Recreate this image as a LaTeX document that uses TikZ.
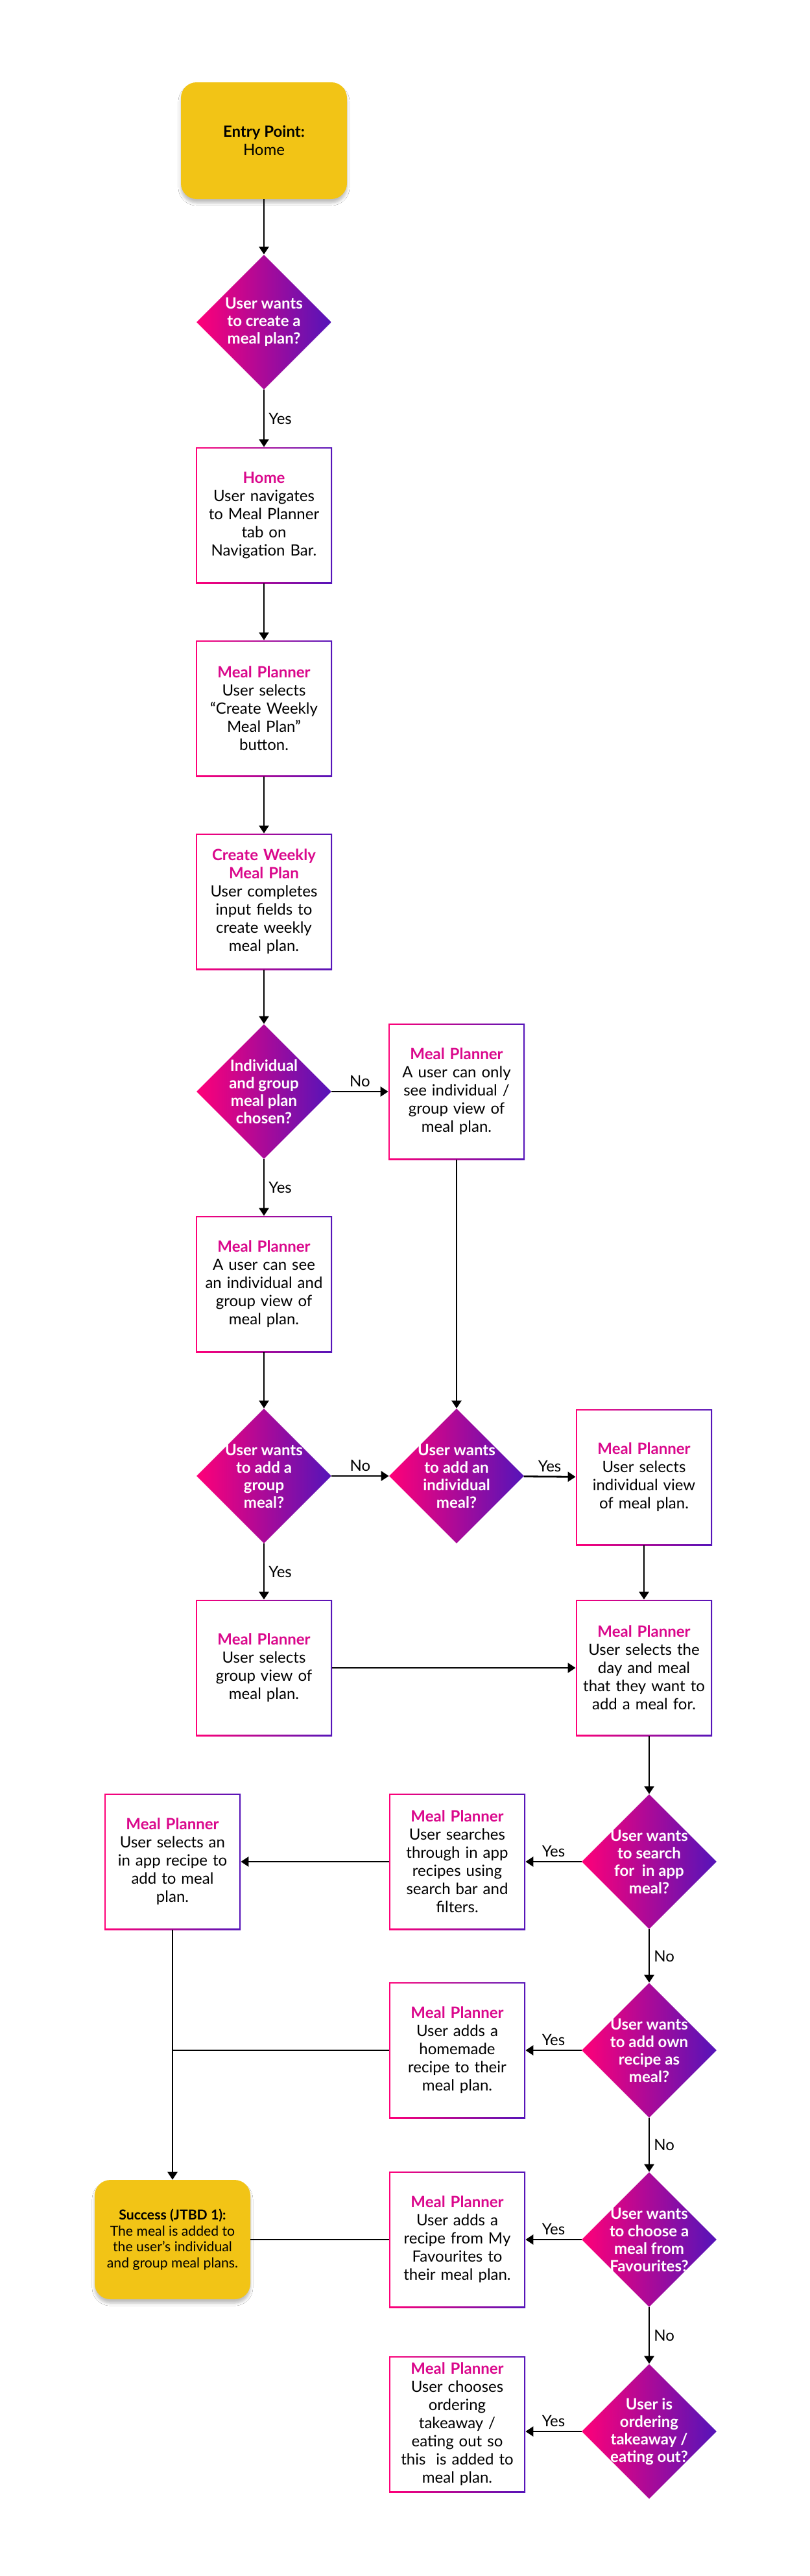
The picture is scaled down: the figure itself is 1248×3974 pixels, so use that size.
\documentclass[tikz,border=0pt]{standalone}
\usepackage{fontspec}
\setmainfont{Lato}
\usepackage{tikz}
\usetikzlibrary{shapes.geometric, arrows.meta, shadows.blur}

\definecolor{mpink}{RGB}{255,0,120}
\definecolor{mpurple}{RGB}{85,20,185}
\definecolor{mtitle}{RGB}{218,8,140}
\definecolor{myellow}{RGB}{242,196,22}

\newcommand{\mptitle}[1]{{\bfseries\color{mtitle}#1}\\}

\tikzset{
  mpbox/.style={rectangle, minimum width=105pt, minimum height=105pt, text width=100pt,
    align=center, inner sep=0pt, font=\fontsize{12}{14}\selectfont,
    left color=mpink, right color=mpurple,
    path picture={\fill[white] ([shift={(1.1pt,-1.1pt)}]path picture bounding box.north west)
      rectangle ([shift={(-1.1pt,1.1pt)}]path picture bounding box.south east);}},
  dmd/.style={diamond, aspect=1, minimum width=104pt, minimum height=104pt, inner sep=0pt,
    left color=mpink, right color=mpurple},
  dtxt/.style={text=white, align=center, font=\bfseries\fontsize{12}{13.5}\selectfont, inner sep=0pt},
  ybox/.style={rectangle, rounded corners=12pt, fill=myellow, align=center,
    blur shadow={shadow xshift=0pt, shadow yshift=-3pt, shadow blur steps=6, shadow opacity=25}},
  arr/.style={line width=1.4pt, -{Triangle[length=6pt, width=7.5pt]}},
  ln/.style={line width=1.4pt},
  lbl/.style={font=\fontsize{12}{14}\selectfont, inner sep=3pt},
}

\begin{document}
\begin{tikzpicture}[x=0.5pt, y=-0.5pt]
\fill[white] (0,0) rectangle (1248,3974);

% main column
\node[ybox, minimum width=128pt, minimum height=90pt, font=\fontsize{12}{14}\selectfont] (entry) at (407,217) {\textbf{Entry Point:}\\Home};
\node[dmd] (d1) at (407,497) {};
\node[dtxt] (d1t) at (d1) {User wants\\to create a\\meal plan?};
\node[mpbox] (home) at (407,795) {\mptitle{Home}User navigates\\to Meal Planner\\tab on\\Navigation Bar.};
\node[mpbox] (mp1) at (407,1093) {\mptitle{Meal Planner}User selects\\“Create Weekly\\Meal Plan”\\button.};
\node[mpbox] (cwmp) at (407,1391) {\mptitle{Create Weekly}\mptitle{Meal Plan}User completes\\input fields to\\create weekly\\meal plan.};
\node[dmd] (d2) at (407,1684) {};
\node[dtxt] (d2t) at (d2) {Individual\\and group\\meal plan\\chosen?};
\node[mpbox] (only) at (704,1684) {\mptitle{Meal Planner}A user can only\\see individual /\\group view of\\meal plan.};
\node[mpbox] (see) at (407,1981) {\mptitle{Meal Planner}A user can see\\an individual and\\group view of\\meal plan.};

% group / individual
\node[dmd] (d3) at (407,2277) {};
\node[dtxt] (d3t) at (d3) {User wants\\to add a\\group\\meal?};
\node[dmd] (d4) at (704,2277) {};
\node[dtxt] (d4t) at (d4) {User wants\\to add an\\individual\\meal?};
\node[mpbox] (indiv) at (993,2279) {\mptitle{Meal Planner}User selects\\individual view\\of meal plan.};
\node[mpbox] (group) at (407,2573) {\mptitle{Meal Planner}User selects\\group view of\\meal plan.};
\node[mpbox] (day) at (993,2573) {\mptitle{Meal Planner}User selects the\\day and meal\\that they want to\\add a meal for.};

% adding the meal
\node[dmd] (d5) at (1001,2872) {};
\node[dtxt] (d5t) at (d5) {User wants\\to search\\for\ \ in app\\meal?};
\node[mpbox] (search) at (705,2872) {\mptitle{Meal Planner}User searches\\through in app\\recipes using\\search bar and\\filters.};
\node[mpbox] (inapp) at (266,2872) {\mptitle{Meal Planner}User selects an\\in app recipe to\\add to meal\\plan.};
\node[dmd] (d6) at (1001,3163) {};
\node[dtxt] (d6t) at (d6) {User wants\\to add own\\recipe as\\meal?};
\node[mpbox] (homemade) at (705,3163) {\mptitle{Meal Planner}User adds a\\homemade\\recipe to their\\meal plan.};
\node[dmd] (d7) at (1001,3455) {};
\node[dtxt] (d7t) at (d7) {User wants\\to choose a\\meal from\\Favourites?};
\node[mpbox] (fav) at (705,3455) {\mptitle{Meal Planner}User adds a\\recipe from My\\Favourites to\\their meal plan.};
\node[ybox, minimum width=120pt, minimum height=92pt, font=\fontsize{10.6}{12.4}\selectfont] (success) at (266,3455) {\textbf{Success (JTBD 1):}\\The meal is added to\\the user’s individual\\and group meal plans.};
\node[dmd] (d8) at (1001,3751) {};
\node[dtxt] (d8t) at (d8) {User is\\ordering\\takeaway /\\eating out?};
\node[mpbox] (takeaway) at (705,3740) {\mptitle{Meal Planner}User chooses\\ordering\\takeaway /\\eating out so\\this\ \ is added to\\meal plan.};

% connectors
\draw[arr] (entry) -- (d1);
\draw[arr] (d1) -- node[lbl, right] {Yes} (home);
\draw[arr] (home) -- (mp1);
\draw[arr] (mp1) -- (cwmp);
\draw[arr] (cwmp) -- (d2);
\draw[arr] (d2) -- node[lbl, above] {No} (only);
\draw[arr] (d2) -- node[lbl, right] {Yes} (see);
\draw[arr] (see) -- (d3);
\draw[arr] (only) -- (d4);
\draw[arr] (d3) -- node[lbl, above] {No} (d4);
\draw[arr] (d4) -- node[lbl, above] {Yes} (indiv);
\draw[arr] (d3) -- node[lbl, right] {Yes} (group);
\draw[arr] (indiv) -- (day);
\draw[arr] (group) -- (day);
\draw[arr] (day.south -| d5.north) -- (d5.north);
\draw[arr] (d5) -- node[lbl, above] {Yes} (search);
\draw[arr] (search) -- (inapp);
\draw[arr] (d5) -- node[lbl, right] {No} (d6);
\draw[arr] (d6) -- node[lbl, above] {Yes} (homemade);
\draw[arr] (d6) -- node[lbl, right] {No} (d7);
\draw[arr] (d7) -- node[lbl, above] {Yes} (fav);
\draw[arr] (d7) -- node[lbl, right] {No} (d8);
\draw[arr] (d8.west) -- node[lbl, above] {Yes} (d8.west -| takeaway.east);
\draw[arr] (inapp) -- (success);
\draw[ln] (homemade.west) -- (homemade.west -| inapp.south);
\draw[ln] (fav) -- (success);
\end{tikzpicture}
\end{document}
